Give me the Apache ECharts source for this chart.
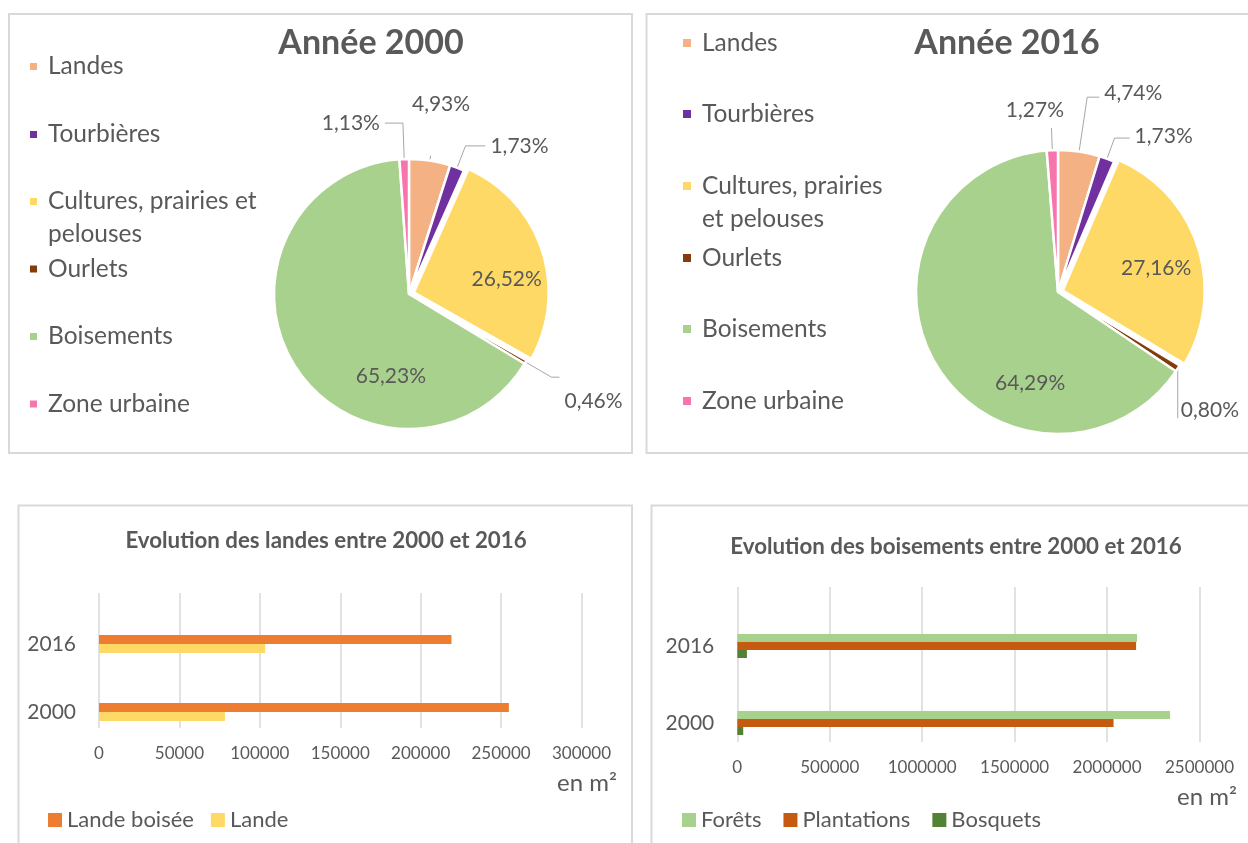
<!DOCTYPE html>
<html>
<head>
<meta charset="utf-8">
<script src="https://cdn.jsdelivr.net/npm/echarts@6/dist/echarts.min.js"></script>
<style>
  html, body { margin: 0; padding: 0; background: #ffffff; }
  #chart { width: 1248px; height: 843px; }
</style>
</head>
<body>
<div id="chart"></div>
<script>
// Occupation du sol (%) en 2000 et 2016
const categories = ['Landes', 'Tourbières', 'Cultures, prairies et pelouses', 'Ourlets', 'Boisements', 'Zone urbaine'];
const shares2000 = [4.93, 1.73, 26.52, 0.46, 65.23, 1.13];
const shares2016 = [4.74, 1.73, 27.16, 0.80, 64.29, 1.27];

// Surfaces en m²
const years = ['2000', '2016'];
const landeBoisee = [254850, 219150];
const lande = [78300, 103300];
const forets = [2341000, 2162000];
const plantations = [2035000, 2157000];
const bosquets = [32000, 52000];

const coverColors = ['#F4B183', '#7030A0', '#FFD966', '#843C0C', '#A9D18E', '#F774AC'];
const textGrey = '#595959';
const FONT = 'Lato';

// Label placement per slice: leader line [length, length2], gap to line, text padding
const labelSetup2000 = [
  { position: 'outside', line: [5, 0], dist: -18.6, pad: [0, 0, 103, 0] },
  { position: 'outside', line: [23.5, 20] },
  { position: 'inside', pad: [18, 0, 0, 52] },
  { position: 'outside', line: [30, 8], pad: [48, 0, 0, 0] },
  { position: 'inside', pad: [91, 0, 0, 84] },
  { position: 'outside', line: [36, 18] }
];
const labelSetup2016 = [
  { position: 'outside', line: [55, 12], pad: [0, 0, 8, 0] },
  { position: 'outside', line: [22, 15], pad: [0, 0, 4, 0] },
  { position: 'inside', pad: [0, 0, 0, 46] },
  { position: 'outside', line: [12, 0], dist: -7, pad: [70, 0, 0, 0], dropLine: true },
  { position: 'inside', pad: [108, 0, 0, 72] },
  { position: 'outside', line: [22, 0], dist: -12.5, pad: [0, 0, 36, 0] }
];

function pieData(values, setup) {
  return categories.map((name, i) => {
    const s = setup[i];
    const outside = s.position === 'outside';
    return {
      name: name,
      value: values[i],
      selected: i === 2,
      itemStyle: { color: coverColors[i] },
      label: {
        position: s.position,
        padding: s.pad || 0,
        distanceToLabelLine: s.dist !== undefined ? s.dist : 5
      },
      labelLine: {
        show: outside,
        length: outside ? s.line[0] : 0,
        length2: outside ? s.line[1] : 0
      }
    };
  });
}

function pieSeries(center, radius, values, setup) {
  return {
    type: 'pie',
    center: center,
    radius: radius,
    startAngle: 90,
    clockwise: true,
    selectedMode: 'single',
    selectedOffset: 5,
    avoidLabelOverlap: false,
    itemStyle: { borderColor: '#ffffff', borderWidth: 2.5 },
    emphasis: { disabled: true },
    label: {
      formatter: p => '{v|' + p.value.toFixed(2).replace('.', ',') + '%}',
      rich: { v: { color: textGrey, fontSize: 21, fontFamily: FONT } }
    },
    labelLine: { lineStyle: { color: '#A6A6A6', width: 1 } },
    // a leader line may drop straight down from the slice to the foot of its label
    labelLayout: params => {
      const s = setup[params.dataIndex];
      if (!s || !s.dropLine || !params.labelLinePoints) return {};
      const start = params.labelLinePoints[0];
      const r = params.labelRect;
      return { labelLinePoints: [[start[0], start[1]], [start[0], r.y + r.height - 2]] };
    },
    data: pieData(values, setup)
  };
}

// One legend block per category so the spacing follows the layout of each panel
function pieLegends(left, tops, iconSize, wrappedName) {
  const tok = { fontFamily: FONT, fontSize: 24.5, color: textGrey, lineHeight: 33 };
  return categories.map((name, i) => ({
    data: [name],
    left: left,
    top: tops[i],
    orient: 'vertical',
    padding: 0,
    selectedMode: false,
    icon: 'rect',
    itemWidth: iconSize,
    itemHeight: iconSize,
    formatter: () => (i === 2 ? wrappedName : name).split('\n').map(t => '{t|' + t + '}').join('\n'),
    textStyle: {
      fontFamily: FONT,
      fontSize: 24.5,
      color: textGrey,
      lineHeight: 33,
      padding: i === 2 ? [33, 0, 0, 5] : [0, 0, 0, 5],
      rich: { t: tok }
    }
  }));
}

const plainNumber = v => String(v);

function valueAxisPair(gridBars, gridLines, max, interval) {
  return [
    { gridIndex: gridBars, type: 'value', min: 0, max: max, show: false },
    {
      gridIndex: gridLines, type: 'value', min: 0, max: max, interval: interval,
      axisLine: { show: false }, axisTick: { show: false },
      splitLine: { show: true, lineStyle: { color: '#D9D9D9', width: 1.5 } },
      axisLabel: { fontFamily: FONT, fontSize: 17, color: textGrey, margin: 17, formatter: plainNumber }
    }
  ];
}

function categoryAxisPair(gridBars, gridLines) {
  return [
    {
      gridIndex: gridBars, type: 'category', data: years,
      axisLine: { show: false }, axisTick: { show: false }, splitLine: { show: false },
      axisLabel: { fontFamily: FONT, fontSize: 21, color: textGrey, margin: 23 }
    },
    { gridIndex: gridLines, type: 'value', show: false, min: 0, max: 1 }
  ];
}

function barSeries(name, data, axisIndex, width, color) {
  return {
    type: 'bar', name: name, data: data,
    xAxisIndex: axisIndex, yAxisIndex: axisIndex,
    barWidth: width, barGap: '0%',
    itemStyle: { color: color },
    emphasis: { disabled: true }
  };
}

const titleStyle = (size, lh, weight) => ({ fontFamily: FONT, fontSize: size, fontWeight: weight, color: textGrey, lineHeight: lh });

const option = {
  animation: false,
  textStyle: { fontFamily: FONT },
  graphic: [
    { type: 'rect', shape: { x: 9, y: 14, width: 623, height: 439 }, style: { fill: 'none', stroke: '#D9D9D9', lineWidth: 2 }, z: -10 },
    { type: 'rect', shape: { x: 646.5, y: 14, width: 640, height: 439 }, style: { fill: 'none', stroke: '#D9D9D9', lineWidth: 2 }, z: -10 },
    { type: 'rect', shape: { x: 18.5, y: 505.5, width: 613.5, height: 400 }, style: { fill: 'none', stroke: '#D9D9D9', lineWidth: 2 }, z: -10 },
    { type: 'rect', shape: { x: 651.5, y: 505.5, width: 640, height: 400 }, style: { fill: 'none', stroke: '#D9D9D9', lineWidth: 2 }, z: -10 }
  ],
  title: [
    { text: 'Année 2000', left: 371, top: 23, textAlign: 'center', padding: 0, textStyle: titleStyle(34, 40, 'bold') },
    { text: 'Année 2016', left: 1007, top: 23, textAlign: 'center', padding: 0, textStyle: titleStyle(34, 40, 'bold') },
    { text: 'Evolution des landes entre 2000 et 2016', left: 326, top: 528, textAlign: 'center', padding: 0, textStyle: titleStyle(22.3, 26, 'bold') },
    { text: 'Evolution des boisements entre 2000 et 2016', left: 956, top: 534, textAlign: 'center', padding: 0, textStyle: titleStyle(22.3, 26, 'bold') },
    { text: 'en m²', left: 587, top: 769, textAlign: 'center', padding: 0, textStyle: titleStyle(24, 28, 'normal') },
    { text: 'en m²', left: 1207, top: 783, textAlign: 'center', padding: 0, textStyle: titleStyle(24, 28, 'normal') }
  ],
  legend: [
    ...pieLegends(28, [50, 118, 152, 252.5, 320, 387.5], 9, 'Cultures, prairies et\npelouses'),
    ...pieLegends(681, [26.5, 97.5, 136.5, 241.5, 312.5, 384.5], 10, 'Cultures, prairies\net pelouses'),
    {
      data: ['Lande boisée', 'Lande'], left: 48, top: 807, padding: 0, selectedMode: false,
      icon: 'rect', itemWidth: 14, itemHeight: 14, itemGap: 17,
      textStyle: { fontFamily: FONT, fontSize: 22, color: textGrey, lineHeight: 26 }
    },
    {
      data: ['Forêts', 'Plantations', 'Bosquets'], left: 682, top: 807, padding: 0, selectedMode: false,
      icon: 'rect', itemWidth: 14, itemHeight: 14, itemGap: 22,
      textStyle: { fontFamily: FONT, fontSize: 22, color: textGrey, lineHeight: 26 }
    }
  ],
  grid: [
    { left: 99, top: 610, width: 482.5, height: 136 },
    { left: 99, top: 593, width: 482.5, height: 135 },
    { left: 737.3, top: 607.5, width: 462.2, height: 154 },
    { left: 737.3, top: 587, width: 462.2, height: 155 }
  ],
  xAxis: [
    ...valueAxisPair(0, 1, 300000, 50000),
    ...valueAxisPair(2, 3, 2500000, 500000)
  ],
  yAxis: [
    ...categoryAxisPair(0, 1),
    ...categoryAxisPair(2, 3)
  ],
  series: [
    pieSeries([409, 294], 135, shares2000, labelSetup2000),
    pieSeries([1058, 292], 142, shares2016, labelSetup2016),
    barSeries('Lande boisée', landeBoisee, 0, 9, '#ED7D31'),
    barSeries('Lande', lande, 0, 9, '#FFD966'),
    barSeries('Forêts', forets, 2, 8, '#A9D18E'),
    barSeries('Plantations', plantations, 2, 8, '#C55A11'),
    barSeries('Bosquets', bosquets, 2, 8, '#548235')
  ]
};

const chart = echarts.init(document.getElementById('chart'), null, { renderer: 'canvas' });
chart.setOption(option);
</script>
</body>
</html>
